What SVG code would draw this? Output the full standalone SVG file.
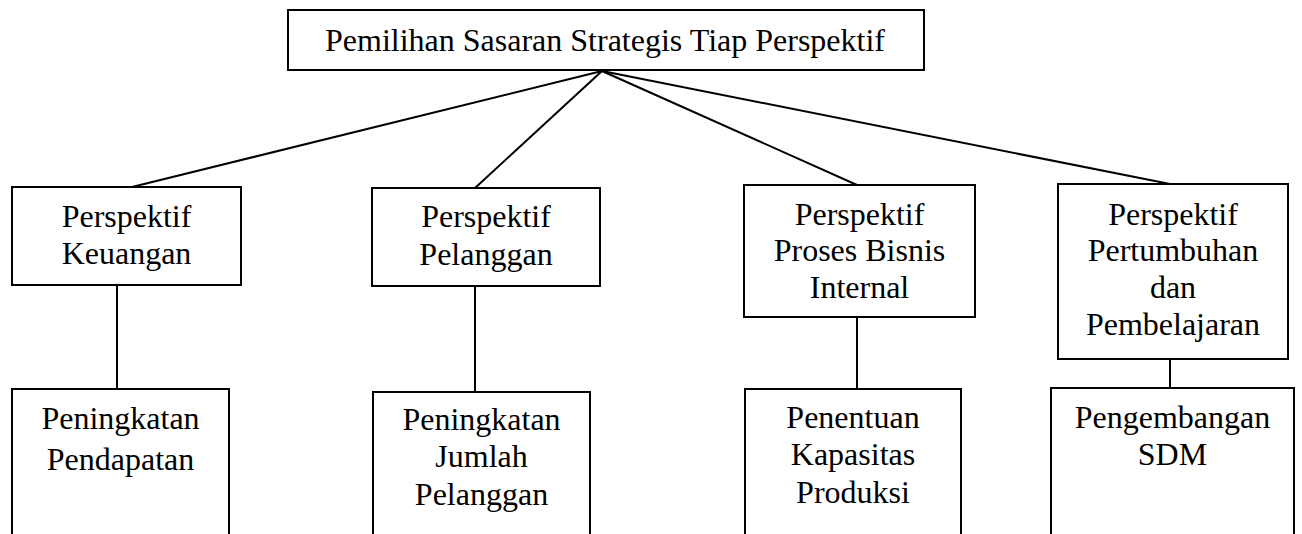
<svg xmlns="http://www.w3.org/2000/svg" width="1302" height="534" viewBox="0 0 1302 534">
  <style>
    .box { fill: #ffffff; stroke: #000000; stroke-width: 2; }
    .link { stroke: #000000; stroke-width: 2; fill: none; }
    .lbl { font-family: "Liberation Serif", "Times New Roman", serif; font-size: 32px; fill: #000000; text-anchor: middle; }
  </style>
  <rect width="1302" height="534" fill="#ffffff"/>

  <!-- connectors -->
  <g id="connectors">
    <line class="link" x1="602" y1="71" x2="132" y2="187"/>
    <line class="link" x1="602" y1="71" x2="475" y2="188"/>
    <line class="link" x1="602" y1="71" x2="857" y2="185"/>
    <line class="link" x1="602" y1="71" x2="1170" y2="184"/>
    <line class="link" x1="117" y1="285" x2="117" y2="389"/>
    <line class="link" x1="475" y1="286" x2="475" y2="392"/>
    <line class="link" x1="857" y1="317" x2="857" y2="389"/>
    <line class="link" x1="1170" y1="359" x2="1170" y2="388"/>
  </g>

  <!-- root -->
  <g id="root">
    <rect class="box" x="288" y="10" width="636" height="60"/>
    <text class="lbl" x="605" y="51">Pemilihan Sasaran Strategis Tiap Perspektif</text>
  </g>

  <!-- perspectives -->
  <g id="keuangan">
    <rect class="box" x="12" y="187" width="229" height="98"/>
    <text class="lbl" x="126.5" y="227">Perspektif</text>
    <text class="lbl" x="126.5" y="264">Keuangan</text>
  </g>
  <g id="pelanggan">
    <rect class="box" x="372" y="188" width="228" height="98"/>
    <text class="lbl" x="486" y="227">Perspektif</text>
    <text class="lbl" x="486" y="265">Pelanggan</text>
  </g>
  <g id="proses-bisnis">
    <rect class="box" x="744" y="185" width="231" height="132"/>
    <text class="lbl" x="859.5" y="225">Perspektif</text>
    <text class="lbl" x="859.5" y="261">Proses Bisnis</text>
    <text class="lbl" x="859.5" y="298">Internal</text>
  </g>
  <g id="pertumbuhan">
    <rect class="box" x="1058" y="184" width="230" height="175"/>
    <text class="lbl" x="1173" y="225">Perspektif</text>
    <text class="lbl" x="1173" y="261">Pertumbuhan</text>
    <text class="lbl" x="1173" y="298">dan</text>
    <text class="lbl" x="1173" y="335">Pembelajaran</text>
  </g>

  <!-- strategic objectives -->
  <g id="pendapatan">
    <rect class="box" x="12" y="389" width="217" height="160"/>
    <text class="lbl" x="120.5" y="429">Peningkatan</text>
    <text class="lbl" x="120.5" y="470">Pendapatan</text>
  </g>
  <g id="jumlah-pelanggan">
    <rect class="box" x="373" y="392" width="217" height="160"/>
    <text class="lbl" x="481.5" y="430">Peningkatan</text>
    <text class="lbl" x="481.5" y="467">Jumlah</text>
    <text class="lbl" x="481.5" y="505">Pelanggan</text>
  </g>
  <g id="kapasitas-produksi">
    <rect class="box" x="745" y="389" width="216" height="160"/>
    <text class="lbl" x="853" y="428">Penentuan</text>
    <text class="lbl" x="853" y="465">Kapasitas</text>
    <text class="lbl" x="853" y="503">Produksi</text>
  </g>
  <g id="sdm">
    <rect class="box" x="1051" y="388" width="243" height="160"/>
    <text class="lbl" x="1172.5" y="428">Pengembangan</text>
    <text class="lbl" x="1172.5" y="465">SDM</text>
  </g>
</svg>
